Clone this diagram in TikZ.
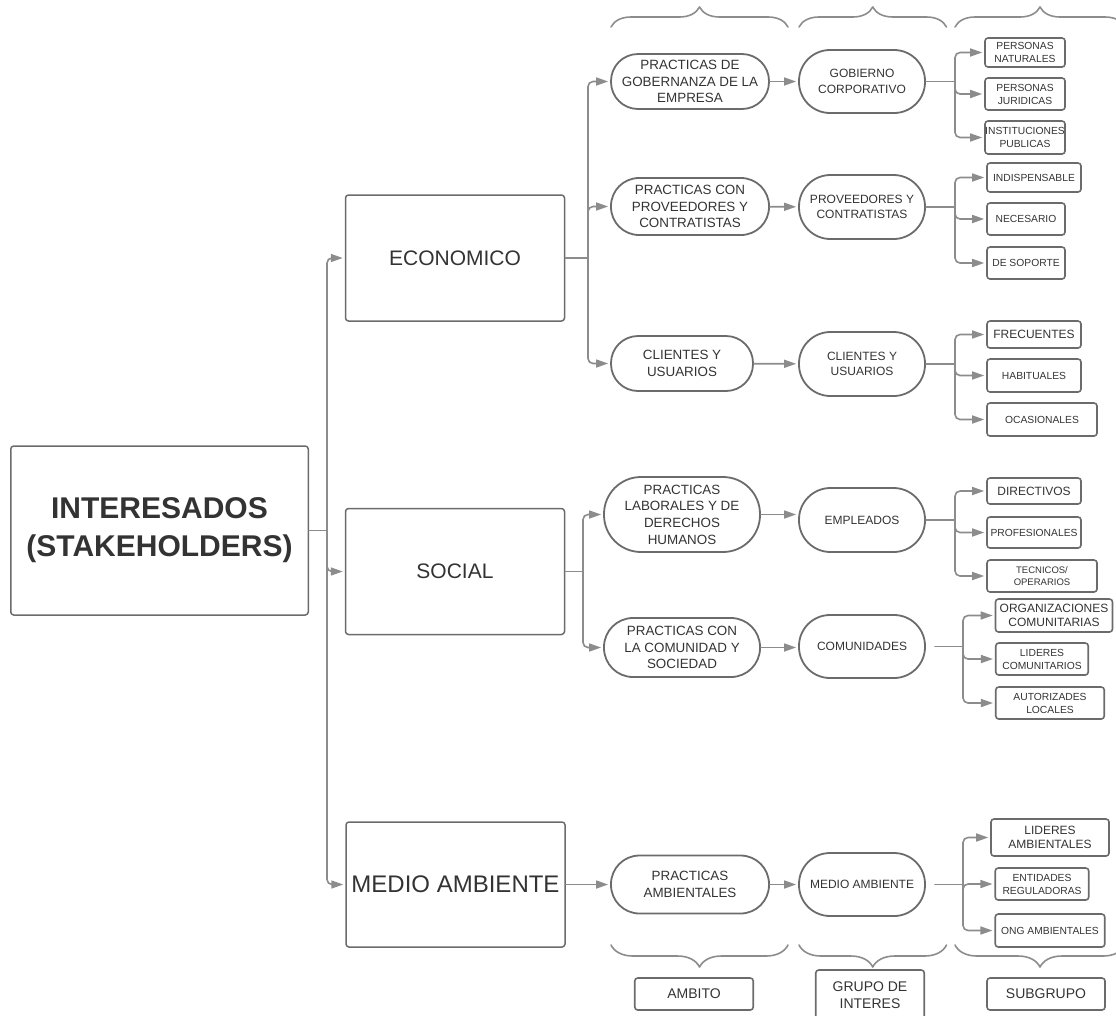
\documentclass[tikz,border=0pt]{standalone}
\usepackage{fontspec}
\setmainfont{Liberation Sans}
\usetikzlibrary{arrows.meta,decorations.pathreplacing}

\definecolor{linegray}{HTML}{8C8C8C}
\definecolor{boxgray}{HTML}{6B6B6B}
\definecolor{txtgray}{HTML}{333333}

\tikzset{
  conn/.style={draw=linegray, line width=1.6pt, rounded corners=5pt},
  arr/.style={conn, -{Triangle[length=12pt,width=8pt]}, shorten >=2pt},
  area/.style={draw=boxgray, line width=1.5pt, rounded corners=3pt, text=txtgray, align=center, inner sep=0pt},
  pill/.style={draw=boxgray, line width=1.8pt, text=txtgray, align=center, inner sep=0pt, minimum height=#1, rounded corners=#1/2-0.5},
  sub/.style={draw=boxgray, line width=1.6pt, rounded corners=3pt, text=txtgray, align=center, inner sep=0pt, font=\fontsize{10.3}{13}\selectfont},
  cbrace/.style={draw=linegray, line width=1.6pt, decorate, decoration={brace,amplitude=#1}},
}

\begin{document}
\begin{tikzpicture}[x=1pt,y=-1pt,line cap=round,line join=round]
\useasboundingbox (0,0) rectangle (1116,1015);
\clip (0,0) rectangle (1116,1015);

% dimensions
\node[area, minimum width=297.5, minimum height=169, font=\bfseries\fontsize{30}{38}\selectfont] (root) at (159.5,530.5) {INTERESADOS\\(STAKEHOLDERS)};
\node[area, minimum width=219, minimum height=126, font=\fontsize{21}{25}\selectfont] (eco) at (455,258) {ECONOMICO};
\node[area, minimum width=219, minimum height=126, font=\fontsize{21}{25}\selectfont] (soc) at (455,571.5) {SOCIAL};
\node[area, minimum width=219, minimum height=125, font=\fontsize{24}{28}\selectfont] (med) at (455.5,884.5) {MEDIO AMBIENTE};

% ambito
\node[pill=55, minimum width=158, font=\fontsize{13.4}{16.7}\selectfont] (gob) at (690,81.5) {PRACTICAS DE\\GOBERNANZA DE LA\\EMPRESA};
\node[pill=57, minimum width=158, font=\fontsize{13.4}{16.7}\selectfont] (prov) at (690,206.5) {PRACTICAS CON\\PROVEEDORES Y\\CONTRATISTAS};
\node[pill=55, minimum width=142, font=\fontsize{13.4}{16.7}\selectfont] (cli) at (682,363.5) {CLIENTES Y\\USUARIOS};
\node[pill=75, minimum width=156, font=\fontsize{13.4}{16.7}\selectfont] (lab) at (682,514.5) {PRACTICAS\\LABORALES Y DE\\DERECHOS\\HUMANOS};
\node[pill=59, minimum width=156, font=\fontsize{13.4}{16.7}\selectfont] (com) at (682,647.5) {PRACTICAS CON\\LA COMUNIDAD Y\\SOCIEDAD};
\node[pill=58, minimum width=158, font=\fontsize{13.4}{16.7}\selectfont] (amb) at (690,884.5) {PRACTICAS\\AMBIENTALES};

% grupo de interes
\node[pill=63, minimum width=126, font=\fontsize{12}{15.7}\selectfont] (gobc) at (862,81.5) {GOBIERNO\\CORPORATIVO};
\node[pill=64, minimum width=126, font=\fontsize{12}{15.7}\selectfont] (provc) at (862,207) {PROVEEDORES Y\\CONTRATISTAS};
\node[pill=64, minimum width=126, font=\fontsize{12}{15.7}\selectfont] (clic) at (862,364) {CLIENTES Y\\USUARIOS};
\node[pill=64, minimum width=126, font=\fontsize{12}{15.7}\selectfont] (emp) at (862,520) {EMPLEADOS};
\node[pill=63, minimum width=126, font=\fontsize{12}{15.7}\selectfont] (comu) at (862,646.5) {COMUNIDADES};
\node[pill=63, minimum width=126, font=\fontsize{12}{15.7}\selectfont] (medg) at (862,884.5) {MEDIO AMBIENTE};

% subgrupo
\node[sub, minimum width=80, minimum height=29] (nat) at (1025,52.5) {PERSONAS\\NATURALES};
\node[sub, minimum width=80, minimum height=32] (jur) at (1025,94) {PERSONAS\\JURIDICAS};
\node[sub, minimum width=80, minimum height=33] (pub) at (1025,137.5) {INSTITUCIONES\\PUBLICAS};
\node[sub, minimum width=94, minimum height=29] (ind) at (1034,177.5) {INDISPENSABLE};
\node[sub, minimum width=78, minimum height=32] (nec) at (1026,219) {NECESARIO};
\node[sub, minimum width=78, minimum height=32] (sop) at (1026,263) {DE SOPORTE};
\node[sub, minimum width=94, minimum height=27, font=\fontsize{12}{14}\selectfont] (fre) at (1034,334.5) {FRECUENTES};
\node[sub, minimum width=94, minimum height=33] (hab) at (1034,375.5) {HABITUALES};
\node[sub, minimum width=110, minimum height=33] (oca) at (1042,419.5) {OCASIONALES};
\node[sub, minimum width=94, minimum height=26, font=\fontsize{12}{14}\selectfont] (dir) at (1034,491) {DIRECTIVOS};
\node[sub, minimum width=94, minimum height=31] (pro) at (1034,532.5) {PROFESIONALES};
\node[sub, minimum width=110, minimum height=32, font=\fontsize{9.5}{12.5}\selectfont] (tec) at (1042,576) {TECNICOS/\\OPERARIOS};
\node[sub, minimum width=117, minimum height=33, font=\fontsize{12}{14.3}\selectfont] (org) at (1054,615.5) {ORGANIZACIONES\\COMUNITARIAS};
\node[sub, minimum width=92.5, minimum height=32] (lic) at (1042,659) {LIDERES\\COMUNITARIOS};
\node[sub, minimum width=108.5, minimum height=32] (aut) at (1050,703) {AUTORIZADES\\LOCALES};
\node[sub, minimum width=118, minimum height=37, font=\fontsize{12}{14.3}\selectfont] (lia) at (1050,837.5) {LIDERES\\AMBIENTALES};
\node[sub, minimum width=93.5, minimum height=32] (ent) at (1042,884) {ENTIDADES\\REGULADORAS};
\node[sub, minimum width=109.5, minimum height=33] (ong) at (1050,930.5) {ONG AMBIENTALES};

% leyenda
\node[sub, minimum width=118.5, minimum height=32, font=\fontsize{14}{17}\selectfont] (lamb) at (694,994) {AMBITO};
\node[sub, minimum width=108.5, minimum height=50, font=\fontsize{14}{16.7}\selectfont] (lgru) at (870,995) {GRUPO DE\\INTERES};
\node[sub, minimum width=118, minimum height=32, font=\fontsize{14}{17}\selectfont] (lsub) at (1046,994) {SUBGRUPO};

\draw[cbrace=20] (611,27) -- (788,27);
\draw[cbrace=20] (799,27) -- (946.5,27);
\draw[cbrace=20] (955,27) -- (1125,27);
\draw[cbrace=22] (788,945) -- (611,945);
\draw[cbrace=22] (946.5,945) -- (799,945);
\draw[cbrace=22] (1125,945) -- (955,945);

% tronco
\coordinate (tr) at (327,530.5);
\draw[conn] (root.east) -- (tr);
\draw[arr] (tr) |- (eco);
\draw[arr] (tr) |- (soc);
\draw[arr] (tr) |- (med);

\coordinate (je) at (588,258);
\draw[conn] (eco.east) -- (je);
\draw[arr] (je) |- (gob);
\draw[arr] (je) |- (prov);
\draw[arr] (je) |- (cli);

\coordinate (js) at (583,571.5);
\draw[conn] (soc.east) -- (js);
\draw[arr] (js) |- (lab);
\draw[arr] (js) |- (com);

\draw[arr] (med.east) -- (amb.west);

\draw[arr] (gob) -- (gobc);
\draw[arr] (prov) -- (provc);
\draw[arr] (cli) -- (clic);
\draw[arr] (lab.east) -- (lab.east -| emp.west);
\draw[arr] (com.east) -- (com.east -| comu.west);
\draw[arr] (amb) -- (medg);

\coordinate (jg1) at (955,81.5);
\draw[conn] (gobc.east) -- (jg1);
\draw[arr] (jg1) |- (nat);
\draw[arr] (jg1) |- (jur);
\draw[arr] (jg1) |- (pub);

\coordinate (jg2) at (955,207);
\draw[conn] (provc.east) -- (jg2);
\draw[arr] (jg2) |- (ind);
\draw[arr] (jg2) |- (nec);
\draw[arr] (jg2) |- (sop);

\coordinate (jg3) at (955,364);
\draw[conn] (clic.east) -- (jg3);
\draw[arr] (jg3) |- (fre);
\draw[arr] (jg3) |- (hab);
\draw[arr] (jg3) |- (oca);

\coordinate (jg4) at (955,520);
\draw[conn] (emp.east) -- (jg4);
\draw[arr] (jg4) |- (dir);
\draw[arr] (jg4) |- (pro);
\draw[arr] (jg4) |- (tec);

\coordinate (jg5) at (963,646.5);
\draw[conn] ([xshift=9pt]comu.east) -- (jg5);
\draw[arr] (jg5) |- (org);
\draw[arr] (jg5) |- (lic);
\draw[arr] (jg5) |- (aut);

\coordinate (jg6) at (963,884.5);
\draw[conn] ([xshift=9pt]medg.east) -- (jg6);
\draw[arr] (jg6) |- (lia);
\draw[arr] (jg6) |- (ent);
\draw[arr] (jg6) |- (ong);
\end{tikzpicture}
\end{document}
